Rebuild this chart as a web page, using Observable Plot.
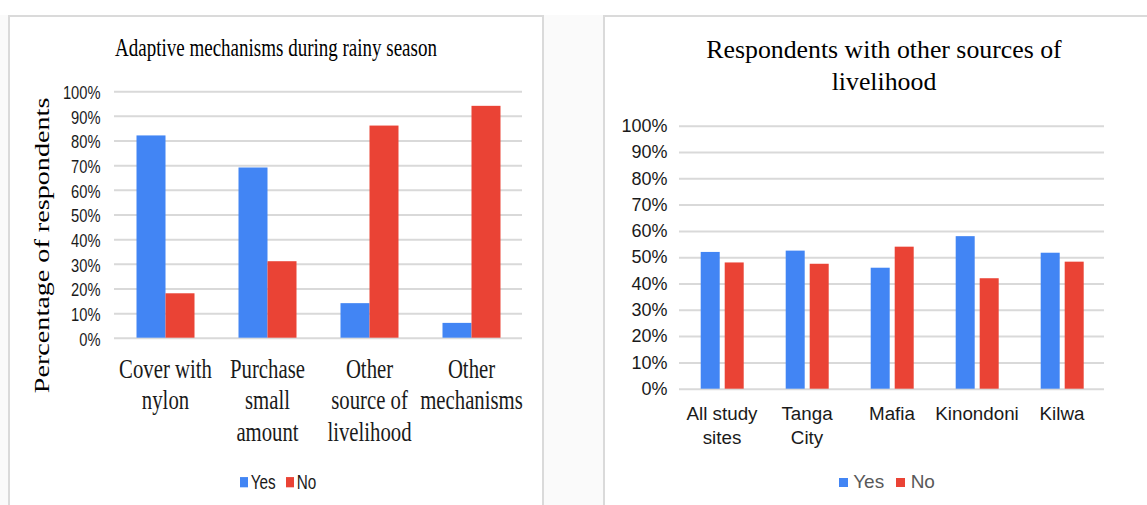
<!DOCTYPE html>
<html>
<head>
<meta charset="utf-8">
<script src="https://cdn.jsdelivr.net/npm/d3@7"></script>
<script src="https://cdn.jsdelivr.net/npm/@observablehq/plot@0.6"></script>
<style>
  html, body { margin: 0; padding: 0; }
  body { width: 1147px; height: 505px; overflow: hidden; background: #fff; position: relative; }
  .abs { position: absolute; }
  .shade { left: 0; top: 15px; width: 1147px; height: 490px; background: #fafafa; }
  .panel { box-sizing: border-box; background: #fff; border: 2px solid #dadada; border-bottom: none; }
  .serif { font-family: "Liberation Serif", "Times New Roman", serif; color: #000; }
  .sans { font-family: "Liberation Sans", Arial, sans-serif; }
  .legend { display: flex; justify-content: center; align-items: center; white-space: nowrap; }
  .legend .sw { display: inline-block; }
  #leftFig { left: 0; top: 15px; width: 544px; height: 383px; transform: scaleY(1.28); transform-origin: 0 0; }
  svg { overflow: visible; }
</style>
</head>
<body>
<div class="abs shade"></div>
<div class="abs panel" style="left:8px; top:15px; width:536px; height:495px;"></div>
<div class="abs panel" style="left:603px; top:15px; width:560px; height:495px;"></div>

<div id="leftFig" class="abs">
  <div id="leftTitle" class="abs serif" style="left:76px; top:14px; width:400px; line-height:24px; font-size:19px; text-align:center; white-space:nowrap;"></div>
  <div id="leftYLabel" class="abs serif" style="left:-108.5px; top:167.7px; width:300px; line-height:24px; font-size:22px; text-align:center; white-space:nowrap; transform:rotate(-90deg);"></div>
  <div id="leftChart" class="abs" style="left:0; top:38px;"></div>
  <div id="leftLegend" class="abs sans legend" style="left:178px; top:354.6px; width:200px; height:20px; font-size:15.3px; color:#1a1a1a;"></div>
</div>

<div id="rightTitle" class="abs serif" style="left:704px; top:34px; width:360px; line-height:32px; font-size:25.8px; text-align:center; white-space:nowrap;"></div>
<div id="rightChart" class="abs" style="left:604px; top:100px;"></div>
<div id="rightLegend" class="abs sans legend" style="left:786.8px; top:472px; width:200px; height:20px; font-size:19px; color:#595959;"></div>

<script>
// Adaptive mechanisms during rainy season (share of respondents, %)
const mechanisms = ["Cover with nylon", "Purchase small amount", "Other source of livelihood", "Other mechanisms"];
const mechanismLabels = ["Cover with\nnylon", "Purchase\nsmall\namount", "Other\nsource of\nlivelihood", "Other\nmechanisms"];
const mechanismYes = [82, 69, 14, 6];
const mechanismNo = [18, 31, 86, 94];

// Respondents with other sources of livelihood, by study site (%)
const sites = ["All study sites", "Tanga City", "Mafia", "Kinondoni", "Kilwa"];
const siteLabels = ["All study\nsites", "Tanga\nCity", "Mafia", "Kinondoni", "Kilwa"];
const siteYes = [52, 52.5, 46, 58, 51.7];
const siteNo = [48, 47.5, 54, 42, 48.3];

const seriesNames = ["Yes", "No"];
const seriesColors = ["#4285f4", "#ea4335"];
const percentTicks = [0, 10, 20, 30, 40, 50, 60, 70, 80, 90, 100];

const leftTitleText = "Adaptive mechanisms during rainy season";
const leftAxisTitle = "Percentage of respondents";
const rightTitleLines = ["Respondents with other sources of", "livelihood"];

const SANS = "Liberation Sans, Arial, sans-serif";
const SERIF = "Liberation Serif, Times New Roman, serif";

function toRows(cats, yes, no) {
  return cats.flatMap((c, i) => [
    {cat: c, series: seriesNames[0], value: yes[i]},
    {cat: c, series: seriesNames[1], value: no[i]}
  ]);
}

function groupedBars({cats, labels, yes, no, width, height, margins, xPad, gridWidth,
                      tickFont, tickPad, tickDy, catFont, catFamily, catPad, catLineHeight}) {
  const rows = toRows(cats, yes, no);
  return Plot.plot({
    width, height,
    marginLeft: margins[0], marginRight: margins[1], marginTop: margins[2], marginBottom: margins[3],
    style: {background: "transparent", color: "#1a1a1a", fontFamily: SANS, overflow: "visible"},
    fx: {domain: cats, padding: 0, label: null},
    x: {domain: seriesNames, paddingInner: xPad[0], paddingOuter: xPad[1], axis: null},
    y: {domain: [0, 100], label: null},
    color: {domain: seriesNames, range: seriesColors},
    marks: [
      Plot.gridY(percentTicks, {stroke: "#d9d9d9", strokeOpacity: 1, strokeWidth: gridWidth}),
      Plot.barY(rows, {fx: "cat", x: "series", y: "value", fill: "series"}),
      Plot.axisY(percentTicks, {
        tickSize: 0, tickPadding: tickPad, label: null, dy: tickDy,
        tickFormat: d => d + "%", fontSize: tickFont, fontFamily: SANS
      }),
      Plot.axisFx({
        anchor: "bottom", tickSize: 0, tickPadding: catPad, label: null,
        tickFormat: c => labels[cats.indexOf(c)],
        fontSize: catFont, fontFamily: catFamily, lineHeight: catLineHeight
      })
    ]
  });
}

function legend(el, squareSize, gapText, gapItem) {
  seriesNames.forEach((name, i) => {
    const item = document.createElement("span");
    item.style.display = "inline-flex";
    item.style.alignItems = "center";
    if (i > 0) item.style.marginLeft = gapItem + "px";
    const sw = document.createElement("span");
    sw.className = "sw";
    sw.style.width = squareSize + "px";
    sw.style.height = squareSize + "px";
    sw.style.background = seriesColors[i];
    sw.style.marginRight = gapText + "px";
    item.appendChild(sw);
    item.appendChild(document.createTextNode(name));
    el.appendChild(item);
  });
}

// Left chart
document.getElementById("leftTitle").textContent = leftTitleText;
document.getElementById("leftYLabel").textContent = leftAxisTitle;
document.getElementById("leftChart").appendChild(groupedBars({
  cats: mechanisms, labels: mechanismLabels, yes: mechanismYes, no: mechanismNo,
  width: 544, height: 309.1, margins: [112.5, 20.4, 21.4, 95],
  xPad: [0, 0.742], gridWidth: 1.6,
  tickFont: 14.7, tickPad: 14, tickDy: 1,
  catFont: 20.75, catFamily: SERIF, catPad: 13, catLineHeight: 1.2
}));
legend(document.getElementById("leftLegend"), 8, 3, 10);

// Right chart
const rt = document.getElementById("rightTitle");
rightTitleLines.forEach(line => {
  const d = document.createElement("div");
  d.textContent = line;
  rt.appendChild(d);
});
document.getElementById("rightChart").appendChild(groupedBars({
  cats: sites, labels: siteLabels, yes: siteYes, no: siteNo,
  width: 543, height: 353.7, margins: [74.3, 43, 25.7, 65],
  xPad: [0.227, 0.872], gridWidth: 2,
  tickFont: 18, tickPad: 12, tickDy: 0,
  catFont: 18.8, catFamily: SANS, catPad: 14, catLineHeight: 1.28
}));
legend(document.getElementById("rightLegend"), 9, 5.5, 12);
</script>
</body>
</html>
